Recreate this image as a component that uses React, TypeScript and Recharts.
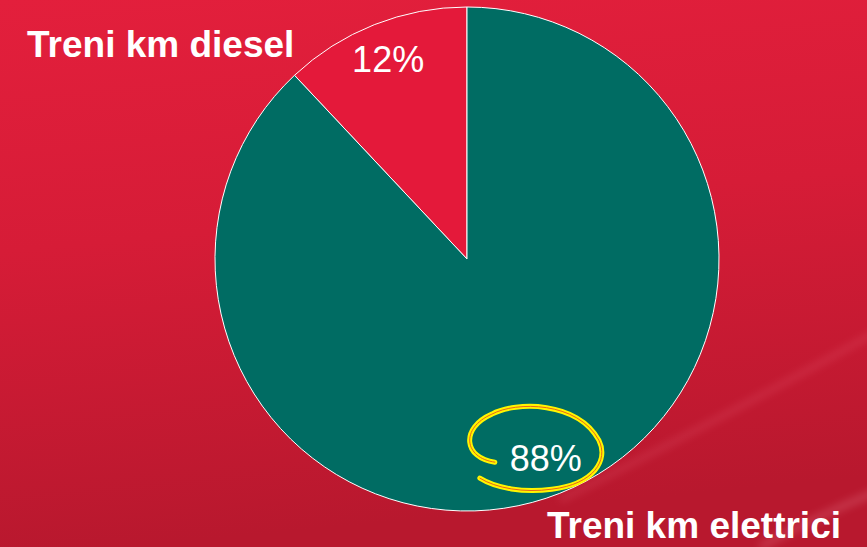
import React from "react";
import { PieChart, Pie, Cell } from "recharts";

const categories = ["Treni km diesel", "Treni km elettrici"];
const shares = [12, 88];
const sliceColors = ["#e4193a", "#006c63"];
const percentLabels = ["12%", "88%"];

const data = categories.map((name, i) => ({ name, value: shares[i] }));

const RAD = Math.PI / 180;
const FONT = "'Liberation Sans', Arial, sans-serif";
const LOOP =
  "M -51 4 C -82 0, -86 -30, -54 -44 C -30 -57, 32 -57, 53 -18 C 63 2, 48 26, 6 31 C -22 35, -50 30, -66 20";

const renderLabel = (props: any) => {
  const { cx, cy, midAngle, outerRadius, index } = props;
  const r = outerRadius * 0.85;
  const x = cx + r * Math.cos(-midAngle * RAD);
  const y = cy + r * Math.sin(-midAngle * RAD);
  return (
    <g key={"lbl" + index}>
      {index === 1 && (
        <g transform={`translate(${x},${y})`}>
          <path d={LOOP} fill="none" stroke="#fff500" strokeWidth={5} strokeLinecap="round" />
          <path d={LOOP} fill="none" stroke="#e8641a" strokeWidth={1} strokeLinecap="round" />
        </g>
      )}
      <text
        x={x}
        y={y}
        fill="#ffffff"
        textAnchor="middle"
        dominantBaseline="central"
        fontFamily={FONT}
        fontSize={36}
      >
        {percentLabels[index]}
      </text>
    </g>
  );
};

export default function App() {
  return (
    <div style={{ position: "fixed", left: 0, top: 0, width: 867, height: 547, overflow: "hidden" }}>
      <svg width={867} height={547} style={{ position: "absolute", left: 0, top: 0 }}>
        <defs>
          <linearGradient id="bg" x1="0" y1="0" x2="0.15" y2="1">
            <stop offset="0" stopColor="#e31f3c" />
            <stop offset="0.45" stopColor="#d61c37" />
            <stop offset="1" stopColor="#b8182e" />
          </linearGradient>
          <filter id="blur"><feGaussianBlur stdDeviation="4" /></filter>
        </defs>
        <rect x={0} y={0} width={867} height={547} fill="url(#bg)" />
        <path d="M 560 500 Q 720 420 880 330" stroke="#ff8aa0" strokeWidth={5} fill="none" opacity={0.2} filter="url(#blur)" />
        <path d="M 760 547 Q 820 515 880 490" stroke="#ffb0c0" strokeWidth={6} fill="none" opacity={0.25} filter="url(#blur)" />
      </svg>
      <div style={{ position: "absolute", left: 0, top: 0 }}>
        <PieChart width={867} height={547} margin={{ top: 0, right: 0, bottom: 0, left: 0 }}>
          <Pie
            data={data}
            dataKey="value"
            nameKey="name"
            cx={467}
            cy={259}
            outerRadius={252}
            startAngle={90}
            endAngle={450}
            stroke="#ffffff"
            strokeWidth={1}
            label={renderLabel}
            labelLine={false}
            isAnimationActive={false}
          >
            {data.map((d, i) => (
              <Cell key={d.name} fill={sliceColors[i]} />
            ))}
          </Pie>
        </PieChart>
      </div>
      <svg width={867} height={547} style={{ position: "absolute", left: 0, top: 0, pointerEvents: "none" }}>
        <text x={27} y={57} fill="#ffffff" fontFamily={FONT} fontWeight="bold" fontSize={37}>
          {categories[0]}
        </text>
        <text x={841} y={538} textAnchor="end" fill="#ffffff" fontFamily={FONT} fontWeight="bold" fontSize={37}>
          {categories[1]}
        </text>
      </svg>
    </div>
  );
}
